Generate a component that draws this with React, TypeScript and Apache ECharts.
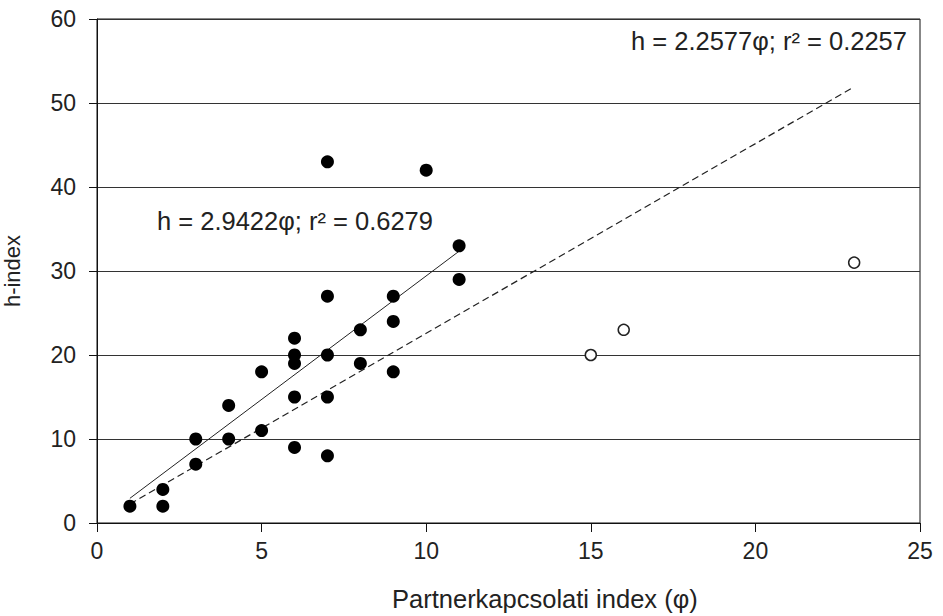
import React, { useEffect, useRef } from "react";
import * as echarts from "echarts";

const filledPoints: number[][] = [
  [1, 2], [2, 4], [2, 2], [3, 10], [3, 7], [4, 14], [4, 10], [5, 18], [5, 11],
  [6, 22], [6, 20], [6, 19], [6, 15], [6, 9], [7, 43], [7, 27], [7, 20], [7, 15], [7, 8],
  [8, 23], [8, 19], [9, 27], [9, 24], [9, 18], [10, 42], [11, 33], [11, 29],
];
const openPoints: number[][] = [[15, 20], [16, 23], [23, 31]];
const solidFit: number[][] = [[1, 2.94], [11, 32.36]];
const dashedFit: number[][] = [[1, 2.26], [23, 51.93]];
const solidLabel = "h = 2.9422φ; r² = 0.6279";
const dashedLabel = "h = 2.2577φ; r² = 0.2257";
const xTitle = "Partnerkapcsolati index (φ)";
const yTitle = "h-index";

const FONT = "Liberation Sans, Arial, sans-serif";

export default function App() {
  const ref = useRef<HTMLDivElement>(null);
  useEffect(() => {
    document.body.style.margin = "0";
    const chart = echarts.init(ref.current!, null, { renderer: "svg" });
    chart.setOption({
      animation: false,
      backgroundColor: "#fff",
      textStyle: { fontFamily: FONT },
      grid: {
        left: 97, right: 23, top: 19, bottom: 93,
        outerBoundsMode: "none", containLabel: false,
        show: true, borderColor: "#111", borderWidth: 1, backgroundColor: "#fff",
      },
      xAxis: {
        type: "value", min: 0, max: 25, interval: 5,
        axisLine: { show: true, onZero: false, lineStyle: { color: "#111", width: 1 } },
        axisTick: { show: true, inside: false, length: 9, lineStyle: { color: "#111" } },
        axisLabel: { fontSize: 23, color: "#222", margin: 16, fontFamily: FONT },
        splitLine: { show: false },
      },
      yAxis: {
        type: "value", min: 0, max: 60, interval: 10,
        name: yTitle, nameLocation: "middle", nameGap: 74,
        nameTextStyle: { fontSize: 22, color: "#222", fontFamily: FONT },
        axisLine: { show: true, onZero: false, lineStyle: { color: "#111", width: 1 } },
        axisTick: { show: true, inside: false, length: 8, lineStyle: { color: "#111" } },
        axisLabel: { fontSize: 23, color: "#222", margin: 21, fontFamily: FONT },
        splitLine: { show: true, lineStyle: { color: "#333", width: 1 } },
      },
      graphic: [
        { type: "text", left: 157, top: 208, style: { text: solidLabel, fontSize: 25.5, fill: "#222", fontFamily: FONT } },
        { type: "text", left: 631, top: 28, style: { text: dashedLabel, fontSize: 25.5, fill: "#222", fontFamily: FONT } },
        { type: "text", left: 392, top: 586, style: { text: xTitle, fontSize: 25.5, fill: "#222", fontFamily: FONT } },
      ],
      series: [
        {
          type: "line", data: solidFit, symbol: "none", silent: true,
          lineStyle: { color: "#222", width: 1 }, z: 2,
        },
        {
          type: "line", data: dashedFit, symbol: "none", silent: true,
          lineStyle: { color: "#222", width: 1.2, type: [7, 4] }, z: 2,
        },
        {
          type: "scatter", data: filledPoints, symbol: "circle", symbolSize: 13,
          itemStyle: { color: "#000", opacity: 1 }, z: 3,
        },
        {
          type: "scatter", data: openPoints, symbol: "circle", symbolSize: 11,
          itemStyle: { color: "#fff", borderColor: "#222", borderWidth: 1.5, opacity: 1 }, z: 3,
        },
      ],
    });
    return () => chart.dispose();
  }, []);
  return <div ref={ref} style={{ width: 943, height: 616 }} />;
}
